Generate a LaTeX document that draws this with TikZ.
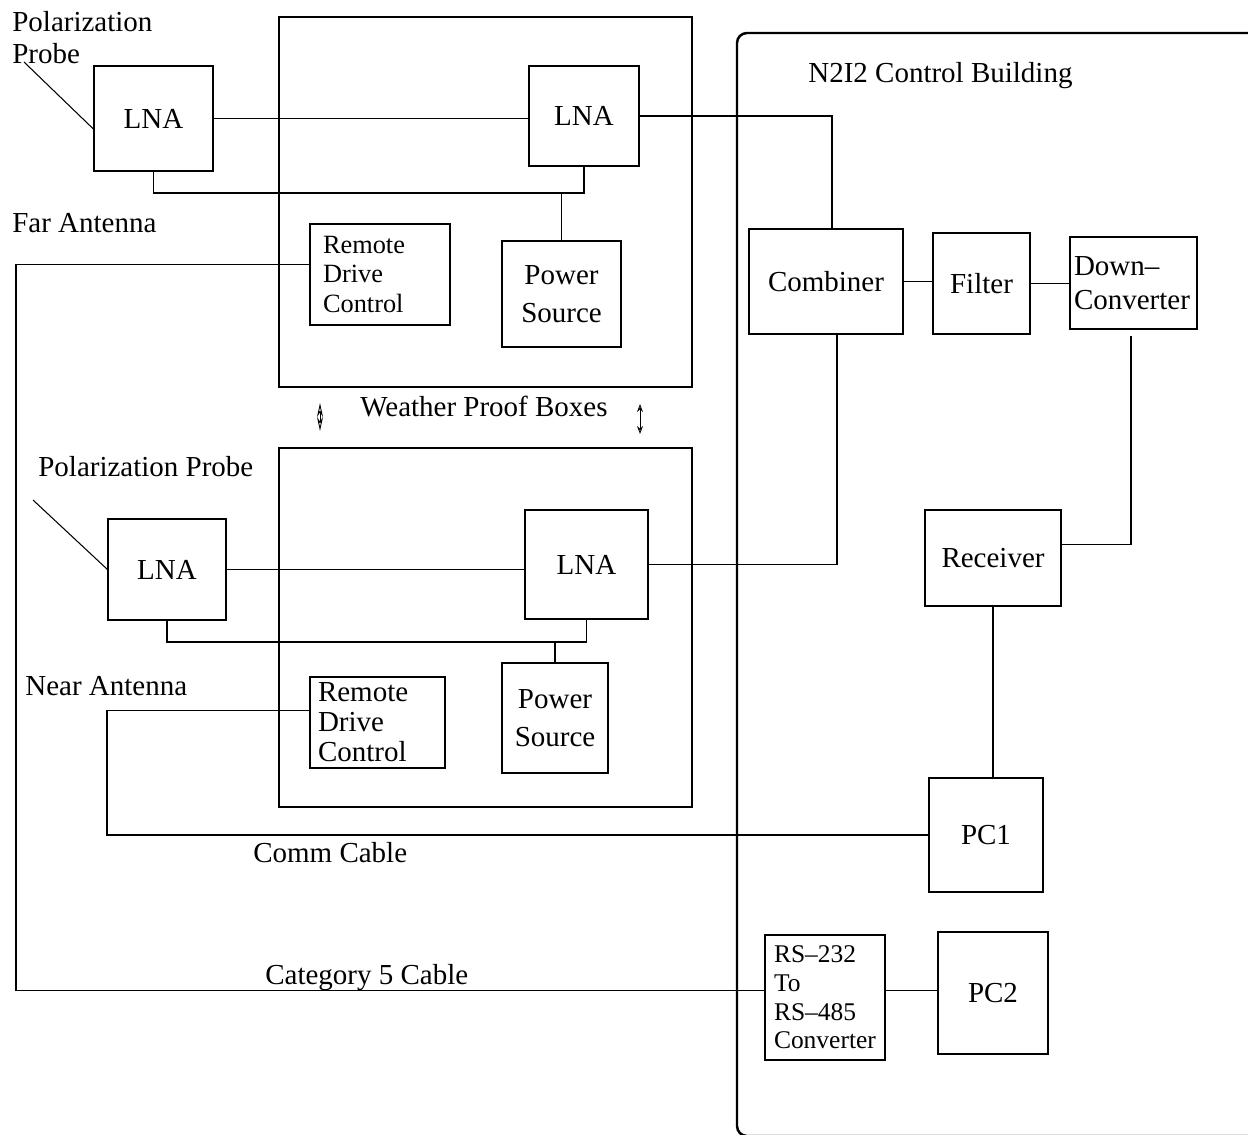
\documentclass[tikz,border=0pt]{standalone}
\usepackage{fontspec}
\setmainfont{Liberation Serif}
\usetikzlibrary{arrows.meta,calc}

\newcommand{\pu}{0.02cm}

\begin{document}
\begin{tikzpicture}[
    x=0.02cm, y=-0.02cm,
    font=\fontsize{16.5}{19}\selectfont,
    blk/.style={draw, line width=0.6pt, inner sep=0pt},
    sz/.style 2 args={minimum width=#1*\pu, minimum height=#2*\pu},
    wire/.style={line width=0.6pt},
    lbl/.style={inner sep=0pt, anchor=base west},
    bldg/.style={draw, line width=1.4pt, rounded corners=0.2cm, inner sep=0pt},
    dbl/.style={line width=0.5pt, <->, >={Stealth[open, length=0.28cm, width=0.12cm]}},
    dbltwo/.style={line width=0.5pt, <->, >={Stealth[open, length=0.16cm, width=0.12cm]}}
]
\useasboundingbox (0,0) rectangle (1248,1135);

% Control building (runs off the page)
\begin{scope}
    \clip (0,0) rectangle (1248,1135);
    \node[bldg, sz={533}{1103}] (ctrl) at (1003.5,584.5) {};
\end{scope}
\node[lbl] (ctrlL) at (808,83) {N2I2 Control Building};

% Far antenna
\node[blk, sz={413}{370}] (wpbA) at (485.5,202) {};
\node[blk, sz={119}{105}] (lnaA) at (153.5,118.5) {LNA};
\node[blk, sz={110}{100}] (lnaB) at (584,116) {LNA};
\node[blk, sz={119}{106}, align=center, font=\fontsize{16.5}{22}\selectfont] (pwrA) at (561.5,294) {Power\\Source};
\node[blk, sz={140}{101}, align=left, text width=2.28cm, inner xsep=0.26cm,
      font=\fontsize{15}{17}\selectfont] (rdcA) at (380,274.5) {Remote\\Drive\\Control};
\node[inner sep=0pt, anchor=north west, align=left, font=\fontsize{16.5}{18}\selectfont] (polA) at (12,11) {Polarization\\Probe};
\node[lbl] (farL) at (12,233) {Far Antenna};
\coordinate (probeA) at (24,62);
\coordinate (busA) at (0,193);

\draw[wire] (probeA) -- (lnaA.190);
\draw[wire] (lnaA.east) -- (lnaA.east -| lnaB.west);
\draw[wire] (lnaA.south) |- (pwrA.north |- busA) -| (lnaB.south);
\draw[wire] (pwrA.north) -- (pwrA.north |- busA);

% Weather proof boxes
\node[lbl] (wpbL) at (360,417) {Weather Proof Boxes};
\coordinate (arrA1) at (320,403);
\coordinate (arrA2) at (320,431);
\coordinate (arrB1) at (640,404);
\coordinate (arrB2) at (640,434);
\draw[dbl] (arrA1) -- (arrA2);
\draw[dbltwo] (arrB1) -- (arrB2);

% Near antenna
\node[blk, sz={413}{359}] (wpbB) at (485.5,627.5) {};
\node[blk, sz={118}{101}] (lnaC) at (167,569.5) {LNA};
\node[blk, sz={123}{109}] (lnaD) at (586.5,564.5) {LNA};
\node[blk, sz={106}{110}, align=center, font=\fontsize{16.5}{22}\selectfont] (pwrB) at (555,718) {Power\\Source};
\node[blk, sz={135}{91}, align=left, text width=2.38cm, inner xsep=0.16cm,
      font=\fontsize{16.5}{17}\selectfont] (rdcB) at (377.5,722.5) {Remote\\Drive\\Control};
\node[lbl] (polB) at (38,476) {Polarization Probe};
\node[lbl] (nearL) at (25,695) {Near Antenna};
\coordinate (probeB) at (33,500);
\coordinate (busB) at (0,642);

\draw[wire] (probeB) -- (lnaC.west);
\draw[wire] (lnaC.east) -- (lnaC.east -| lnaD.west);
\draw[wire] (lnaC.south) |- (pwrB.north |- busB) -| (lnaD.south);
\draw[wire] (pwrB.north) -- (pwrB.north |- busB);

% Inside the building
\node[blk, sz={154}{105}] (comb) at (826,281.5) {Combiner};
\node[blk, sz={97}{101}] (filt) at (981.5,283.5) {Filter};
\node[blk, sz={127}{92}, align=left, text width=2.38cm, inner xsep=0.08cm] (dconv) at (1133.5,283) {Down--\\Converter};
\node[blk, sz={136}{96}] (recv) at (993,558) {Receiver};
\node[blk, sz={114}{114}] (pc1) at (986,835) {PC1};
\node[blk, sz={120}{125}, align=left, text width=2.04cm, inner xsep=0.18cm,
      font=\fontsize{14.5}{16.3}\selectfont] (rs) at (825,997.5) {RS--232\\To\\RS--485\\Converter};
\node[blk, sz={110}{122}] (pc2) at (993,993) {PC2};

\draw[wire] (lnaB.east) -| ($(comb.north)+(6,0)$);
\draw[wire] (lnaD.east) -| ($(comb.south)+(11,0)$);
\draw[wire] (comb.east) -- (comb.east -| filt.west);
\draw[wire] (filt.east) -- (filt.east -| dconv.west);
\draw[wire] ($(dconv.south)+(-2.5,6)$) |- (recv.11);
\draw[wire] (recv.south) -- (recv.south |- pc1.north);
\draw[wire] (rs.7) -- (rs.7 -| pc2.west);

% Cables
\coordinate (catA) at (16,0);
\coordinate (commA) at (107,0);
\draw[wire] (rdcA.172) -| (rs.173 -| catA) -- (rs.173);
\draw[wire] (rdcB.170) -| (pc1.west -| commA) -- (pc1.west);
\node[lbl] (commL) at (253,862) {Comm Cable};
\node[lbl] (catL) at (265,984) {Category 5 Cable};

\end{tikzpicture}
\end{document}
